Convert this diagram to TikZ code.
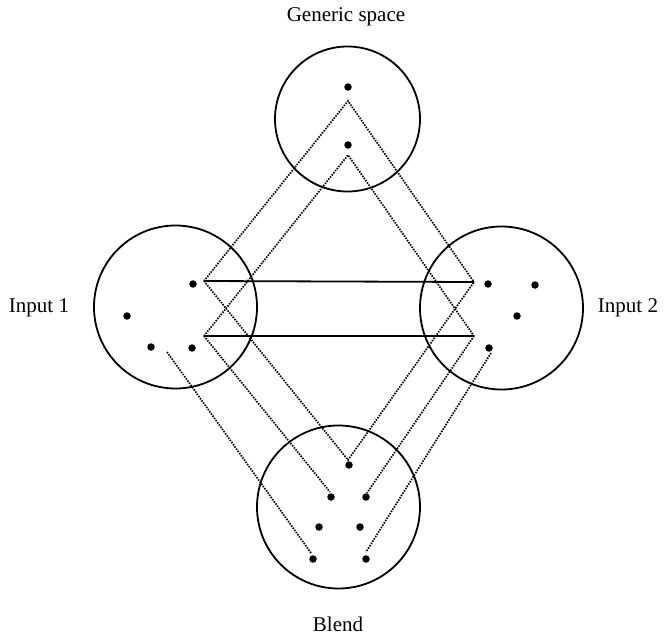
\documentclass[tikz,border=0pt]{standalone}
\usepackage{fontspec}
\setmainfont{Liberation Serif}
\begin{document}
\begin{tikzpicture}[x=1pt,y=-1pt,
  space/.style={circle,draw,line width=1.8pt,inner sep=0pt,outer sep=0pt},
  dot/.style={circle,fill=black,inner sep=0pt,minimum size=7.5pt},
  map/.style={line width=1.7pt,dash pattern=on 1.5pt off 1.2pt},
  link/.style={line width=1.8pt},
  lbl/.style={font=\fontsize{21}{25}\selectfont,anchor=base,inner sep=0pt}]
\useasboundingbox (0,0) rectangle (667,640);
% spaces
\node[space,minimum size=145pt] (gen) at (347.5,119) {};
\node[space,minimum size=163pt] (in1) at (175.5,307) {};
\node[space,minimum size=163pt] (in2) at (501.5,308) {};
\node[space,minimum size=163pt] (bl) at (338.5,507) {};
% labels
\node[lbl] (tgen) at (346,21) {Generic space};
\node[lbl] (tin1) at (39,312) {Input 1};
\node[lbl] (tin2) at (628,312) {Input 2};
\node[lbl] (tbl) at (338,631) {Blend};
% dots
\node[dot] (g1) at (348,87) {};
\node[dot] (g2) at (348,145) {};
\node[dot] (i1a) at (193,284) {};
\node[dot] (i1b) at (127,316) {};
\node[dot] (i1c) at (151,347) {};
\node[dot] (i1d) at (192,348) {};
\node[dot] (i2a) at (488,284) {};
\node[dot] (i2b) at (535,285) {};
\node[dot] (i2c) at (517,316) {};
\node[dot] (i2d) at (489,348) {};
\node[dot] (b1) at (349,465) {};
\node[dot] (b2) at (331,497) {};
\node[dot] (b3) at (366,497) {};
\node[dot] (b4) at (319,527) {};
\node[dot] (b5) at (360,527) {};
\node[dot] (b6) at (313,559) {};
\node[dot] (b7) at (366,559) {};
% vertices
\coordinate (a1) at (348,101);
\coordinate (a2) at (348,155);
\coordinate (L1) at (204,281);
\coordinate (L2) at (204,336);
\coordinate (R1) at (474,282);
\coordinate (R2) at (474,336);
\coordinate (bt) at (348,460);
\coordinate (bl2) at (330,492);
\coordinate (br2) at (367,493);
\coordinate (bl4) at (311,553);
\coordinate (br4) at (366,552);
\coordinate (ls) at (167,352);
\coordinate (rs) at (491,353);
% connectors
\draw[map] (L1) -- (a1) -- (R1);
\draw[map] (L2) -- (a2) -- (R2);
\draw[map] (L1) -- (bt) -- (R1);
\draw[map] (L2) -- (bl2);
\draw[map] (R2) -- (br2);
\draw[map] (ls) -- (bl4);
\draw[map] (rs) -- (br4);
\draw[link] (L1) -- (R1);
\draw[link] (L2) -- (R2);
\end{tikzpicture}
\end{document}
